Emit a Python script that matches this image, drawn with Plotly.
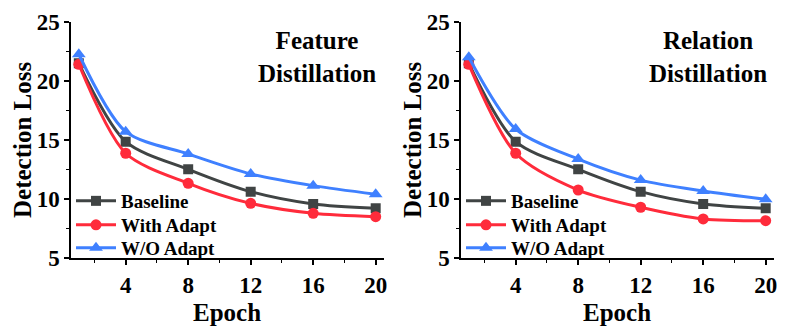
import plotly.graph_objects as go

# epochs shared by every series
epochs = [1, 4, 8, 12, 16, 20]

# Feature distillation panel
feat_baseline = [21.5, 14.87, 12.53, 10.64, 9.60, 9.23]
feat_with_adapt = [21.42, 13.89, 11.35, 9.65, 8.81, 8.52]
feat_wo_adapt = [22.27, 15.72, 13.83, 12.14, 11.15, 10.42]

# Relation distillation panel
rel_baseline = [21.5, 14.87, 12.53, 10.64, 9.60, 9.23]
rel_with_adapt = [21.42, 13.89, 10.78, 9.32, 8.33, 8.18]
rel_wo_adapt = [22.01, 15.94, 13.40, 11.62, 10.70, 9.99]

series_names = ['Baseline', 'With Adapt', 'W/O Adapt']
x_ticks = [4, 8, 12, 16, 20]
y_ticks = [5, 10, 15, 20, 25]

FONT = 'Liberation Serif, Times New Roman, serif'
STYLES = {
    'Baseline': dict(color='#404444', symbol='square', size=10),
    'With Adapt': dict(color='#ff2b3b', symbol='circle', size=11),
    'W/O Adapt': dict(color='#3f80ff', symbol='triangle-up', size=12),
}

# the page body has an 8px margin, so the figure is a bit smaller than the
# window and screen positions are shifted by that margin
PAGE_W, PAGE_H, BODY = 789, 329, 8
W, H = PAGE_W - BODY, PAGE_H - BODY


def px_x(x):
    return (x - BODY) / W


def px_y(y):
    return 1 - (y - BODY) / H


# legend row centres (screen px) and left edges of each panel legend
legend_rows = [201, 225, 248]
legend_left = [px_x(71), px_x(461)]

fig = go.Figure()

panels = [
    ('x', 'y', [feat_baseline, feat_with_adapt, feat_wo_adapt]),
    ('x2', 'y2', [rel_baseline, rel_with_adapt, rel_wo_adapt]),
]

legend_layout = {}
n = 0
for p, (xa, ya, data) in enumerate(panels):
    for i, (name, vals) in enumerate(zip(series_names, data)):
        st = STYLES[name]
        n += 1
        leg = 'legend' if n == 1 else f'legend{n}'
        fig.add_trace(go.Scatter(
            x=epochs, y=vals, name=name, xaxis=xa, yaxis=ya, legend=leg,
            mode='lines+markers',
            line=dict(color=st['color'], width=3, shape='spline', smoothing=0.8),
            marker=dict(color=st['color'], symbol=st['symbol'], size=st['size']),
        ))
        # one legend per entry so the row spacing can follow the reference
        legend_layout[leg] = dict(
            font=dict(family=FONT, size=19, color='black', weight='bold'),
            bgcolor='rgba(0,0,0,0)', borderwidth=0, itemwidth=40,
            xanchor='left', yanchor='middle',
            x=legend_left[p], y=px_y(legend_rows[i]),
        )

axis_common = dict(
    showline=True, linecolor='black', linewidth=1.5, showgrid=False, zeroline=False,
    automargin=False,
    ticks='outside', ticklen=5, tickwidth=1.5, tickcolor='black',
    tickfont=dict(family=FONT, size=23, color='black', weight='bold'),
)
xaxis_common = dict(axis_common, range=[0.5, 20.5], tickvals=x_ticks,
                    minor=dict(dtick=2, tick0=0, ticks='outside', ticklen=3,
                               tickwidth=1.2, tickcolor='black'))
yaxis_common = dict(axis_common, range=[5, 25], tickvals=y_ticks,
                    minor=dict(dtick=2.5, tick0=5, ticks='outside', ticklen=3,
                               tickwidth=1.2, tickcolor='black'))

title_font = dict(family=FONT, size=25, color='black', weight='bold')

y_dom = [px_y(258.3), px_y(22)]
fig.update_layout(
    width=W, height=H,
    margin=dict(l=0, r=0, t=0, b=0),
    plot_bgcolor='white', paper_bgcolor='white',
    xaxis=dict(xaxis_common, domain=[px_x(71), px_x(383.5)], anchor='y'),
    yaxis=dict(yaxis_common, domain=y_dom, anchor='x'),
    xaxis2=dict(xaxis_common, domain=[px_x(461), px_x(773.5)], anchor='y2'),
    yaxis2=dict(yaxis_common, domain=y_dom, anchor='x2'),
    showlegend=True,
    **legend_layout,
)

# panel labels
for xc, label in [(317, 'Feature<br>Distillation'), (708, 'Relation<br>Distillation')]:
    fig.add_annotation(text=label, xref='paper', yref='paper', x=px_x(xc), y=px_y(57),
                       xanchor='center', yanchor='middle', showarrow=False,
                       font=title_font, align='center')

# axis titles
for xc in [227, 617]:
    fig.add_annotation(text='Epoch', xref='paper', yref='paper', x=px_x(xc), y=px_y(312),
                       xanchor='center', yanchor='middle', showarrow=False, font=title_font)
for xc in [22, 412]:
    fig.add_annotation(text='Detection Loss', xref='paper', yref='paper', x=px_x(xc), y=px_y(140),
                       xanchor='center', yanchor='middle', showarrow=False,
                       textangle=-90, font=title_font)

fig.write_html("out.html")
